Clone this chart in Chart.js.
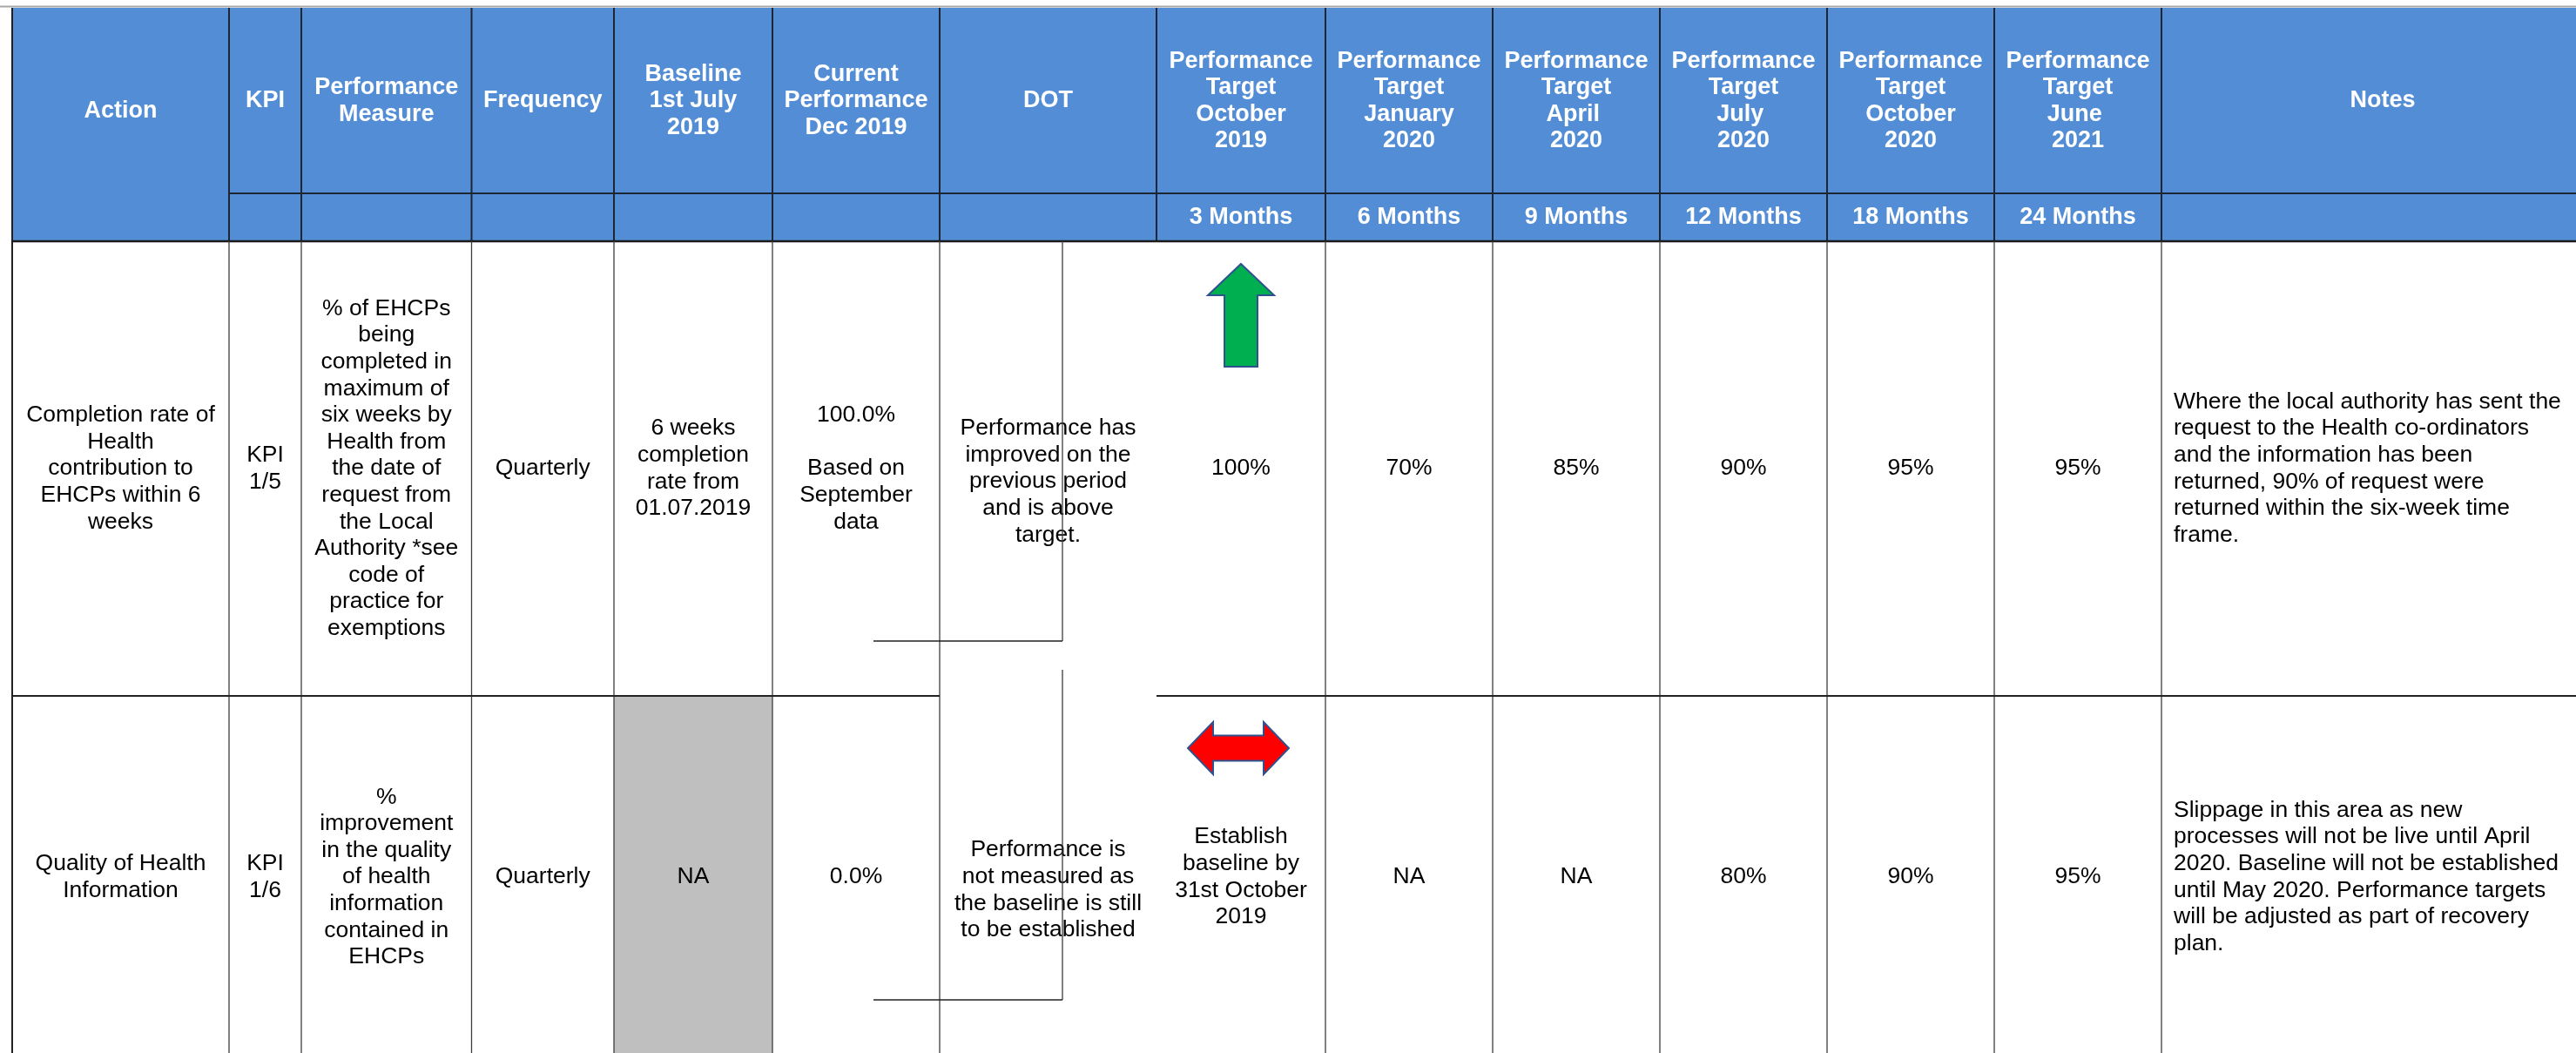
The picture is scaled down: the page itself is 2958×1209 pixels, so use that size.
<!DOCTYPE html>
<html>
<head>
<meta charset="utf-8">
<script src="https://cdn.jsdelivr.net/npm/chart.js@4.4.0/dist/chart.umd.min.js"></script>
<style>
  body { margin: 0; background: #fff; }
  #wrap { width: 2958px; height: 1209px; }
</style>
</head>
<body>
<div id="wrap"><canvas id="kpiTable" width="2958" height="1209"></canvas></div>
<script>
// table content
const headers = [
    "Action", "KPI", "Performance\nMeasure", "Frequency", "Baseline\n1st July\n2019",
    "Current\nPerformance\nDec 2019", "DOT",
    "Performance\nTarget\nOctober\n2019", "Performance\nTarget\nJanuary\n2020",
    "Performance\nTarget\nApril \n2020", "Performance\nTarget\nJuly \n2020",
    "Performance\nTarget\nOctober\n2020", "Performance\nTarget\nJune \n2021", "Notes"
];
const periods = ["", "", "", "", "", "", "3 Months", "6 Months", "9 Months", "12 Months", "18 Months", "24 Months", ""];

const actions = ["Completion rate of\nHealth\ncontribution to\nEHCPs within 6\nweeks", "Quality of Health\nInformation"];
const kpis = ["KPI\n1/5", "KPI\n1/6"];
const measures = [
    "% of EHCPs\nbeing\ncompleted in\nmaximum of\nsix weeks by\nHealth from\nthe date of\nrequest from\nthe Local\nAuthority *see\ncode of\npractice for\nexemptions",
    "%\nimprovement\nin the quality\nof health\ninformation\ncontained in\nEHCPs"
];
const frequency = ["Quarterly", "Quarterly"];
const baseline = ["6 weeks\ncompletion\nrate from\n01.07.2019", "NA"];
const current = ["100.0%\n\nBased on\nSeptember\ndata", "0.0%"];
const dot = [
    "Performance has\nimproved on the\nprevious period\nand is above\ntarget.",
    "Performance is\nnot measured as\nthe baseline is still\nto be established"
];
const dotArrow = ["up", "level"];
const target3m = ["100%", "Establish\nbaseline by\n31st October\n2019"];
const target6m = ["70%", "NA"];
const target9m = ["85%", "NA"];
const target12m = ["90%", "80%"];
const target18m = ["95%", "90%"];
const target24m = ["95%", "95%"];
const notes = [
    "Where the local authority has sent the\nrequest to the Health co-ordinators\nand the information has been\nreturned, 90% of request were\nreturned within the six-week time\nframe.",
    "Slippage in this area as new\nprocesses will not be live until April\n2020. Baseline will not be established\nuntil May 2020. Performance targets\nwill be adjusted as part of recovery\nplan."
];
const naBaseline = [false, true];

// layout (table units = canvas pixels through the hidden linear scales)
const colEdges = [14, 263, 346, 541.5, 705, 887, 1079, 1328, 1522, 1714, 1906, 2098, 2290, 2482, 2990];
const rowEdges = [9, 222, 277, 799, 1215];
const headBlue = "#538DD5";
const bodyFont = "26.5px 'Liberation Sans', Arial, sans-serif";
const headFont = "bold 27px 'Liberation Sans', Arial, sans-serif";
const lineH = 30.6;

function cellRows(r) {
    return [actions[r], kpis[r], measures[r], frequency[r], baseline[r], current[r], dot[r],
        target3m[r], target6m[r], target9m[r], target12m[r], target18m[r], target24m[r]];
}

const tablePlugin = {
    id: 'tablePlugin',
    afterDraw(chart) {
        const c = chart.ctx;
        const sx = chart.scales.x, sy = chart.scales.y;
        const px = v => sx.getPixelForValue(v);
        const py = v => sy.getPixelForValue(v);

        function text(str, cx, cy, align) {
            let lines = str.split("\n");
            c.textAlign = align || "center";
            c.textBaseline = "middle";
            for (let i = 0; i < lines.length; i++) {
                c.fillText(lines[i], px(cx), py(cy + (i - (lines.length - 1) / 2) * lineH));
            }
        }
        function line(x1, y1, x2, y2, w, col) {
            c.beginPath();
            c.lineWidth = w;
            c.strokeStyle = col;
            c.moveTo(px(x1), py(y1));
            c.lineTo(px(x2), py(y2));
            c.stroke();
        }
        const mid = i => (colEdges[i] + colEdges[i + 1]) / 2;
        const right = colEdges[colEdges.length - 1];

        c.save();
        // top rule and header band
        line(0, 7.5, right, 7.5, 2, "#a6a6a6");
        c.fillStyle = headBlue;
        c.fillRect(px(colEdges[0]), py(rowEdges[0]), px(right) - px(colEdges[0]), py(rowEdges[2]) - py(rowEdges[0]));

        // grey NA cell
        for (let r = 0; r < 2; r++) {
            if (naBaseline[r]) {
                c.fillStyle = "#bfbfbf";
                c.fillRect(px(colEdges[4]), py(rowEdges[3 + r - 1 + 0]), px(colEdges[5]) - px(colEdges[4]), py(rowEdges[3 + r]) - py(rowEdges[2 + r]));
            }
        }

        // header text
        c.fillStyle = "#ffffff";
        c.font = headFont;
        for (let i = 0; i < headers.length; i++) {
            let cy = i === 0 ? 128 : 116;
            text(headers[i], mid(i), cy);
        }
        for (let i = 0; i < periods.length; i++) {
            if (periods[i]) text(periods[i], mid(i + 1), 250);
        }

        // body text
        c.fillStyle = "#000000";
        c.font = bodyFont;
        for (let r = 0; r < 2; r++) {
            let cells = cellRows(r);
            let cy = (rowEdges[2 + r] + rowEdges[3 + r]) / 2;
            for (let i = 0; i < cells.length; i++) {
                let dy = i === 6 ? 15 : 0;
                text(cells[i], mid(i), cy + dy);
            }
            text(notes[r], colEdges[13] + 14, cy, "left");
        }

        // DOT arrows
        c.lineWidth = 2;
        c.strokeStyle = "#2f528f";
        let ax = mid(7);
        for (let r = 0; r < 2; r++) {
            let top = rowEdges[2 + r];
            c.beginPath();
            if (dotArrow[r] === "up") {
                let pts = [[ax, top + 26], [ax + 38, top + 62], [ax + 19, top + 62], [ax + 19, top + 144],
                    [ax - 19, top + 144], [ax - 19, top + 62], [ax - 38, top + 62]];
                pts.forEach((p, k) => k ? c.lineTo(px(p[0]), py(p[1])) : c.moveTo(px(p[0]), py(p[1])));
                c.fillStyle = "#00b050";
            } else {
                let cy = top + 60, bx = ax - 3;
                let pts = [[bx - 58, cy], [bx - 29, cy - 30], [bx - 29, cy - 14.5], [bx + 29, cy - 14.5],
                    [bx + 29, cy - 30], [bx + 58, cy], [bx + 29, cy + 30], [bx + 29, cy + 14.5],
                    [bx - 29, cy + 14.5], [bx - 29, cy + 30]];
                pts.forEach((p, k) => k ? c.lineTo(px(p[0]), py(p[1])) : c.moveTo(px(p[0]), py(p[1])));
                c.fillStyle = "#ff0000";
            }
            c.closePath();
            c.fill();
            c.stroke();
        }

        // header grid
        const hd = "#1f2633";
        line(colEdges[0], rowEdges[0], colEdges[0], 1209, 2, "#222");
        for (let i = 1; i < colEdges.length - 1; i++) {
            line(colEdges[i], rowEdges[0], colEdges[i], rowEdges[2], 2, hd);
        }
        line(colEdges[1], rowEdges[1], right, rowEdges[1], 2, hd);
        line(colEdges[0], rowEdges[2], right, rowEdges[2], 2.5, "#1a1a1a");

        // body grid
        const bd = "#3c3c3c";
        for (let i = 1; i < colEdges.length - 1; i++) {
            if (i === 7) continue;
            line(colEdges[i], rowEdges[2], colEdges[i], rowEdges[4], 1.3, bd);
        }
        line(colEdges[0], rowEdges[3], colEdges[6], rowEdges[3], 2, "#222");
        line(colEdges[7], rowEdges[3], right, rowEdges[3], 2, "#222");

        // DOT text box outlines
        line(1220, rowEdges[2], 1220, 736, 1.3, bd);
        line(1003, 736, 1220, 736, 1.5, "#222");
        line(1220, 769, 1220, 1148, 1.3, bd);
        line(1003, 1148, 1220, 1148, 1.5, "#222");
        c.restore();
    }
};

const ctx = document.getElementById('kpiTable').getContext('2d');
const tableChart = new Chart(ctx, {
    type: 'scatter',
    data: { datasets: [] },
    options: {
        responsive: false,
        animation: false,
        devicePixelRatio: 1,
        layout: { padding: 0 },
        scales: {
            x: { type: 'linear', min: 0, max: 2958, display: false },
            y: { type: 'linear', min: 0, max: 1209, reverse: true, display: false }
        },
        plugins: {
            legend: { display: false },
            tooltip: { enabled: false }
        }
    },
    plugins: [tablePlugin]
});
</script>
</body>
</html>
